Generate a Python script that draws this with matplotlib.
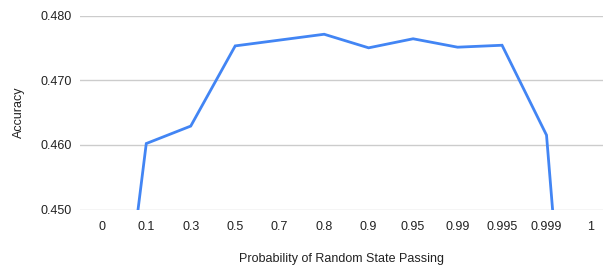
import matplotlib
matplotlib.use("Agg")
from matplotlib import pyplot as plt

# data
probs = ["0", "0.1", "0.3", "0.5", "0.7", "0.8", "0.9", "0.95", "0.99", "0.995", "0.999", "1"]
accuracy = [0.405, 0.4602, 0.4629, 0.4753, 0.4762, 0.4771, 0.4750, 0.4764, 0.4751, 0.4754, 0.4615, 0.377]
yticks = [0.450, 0.460, 0.470, 0.480]

plt.rcParams['font.family'] = ['Liberation Sans', 'DejaVu Sans']

fig = plt.figure(figsize=(6.03, 2.68), dpi=100)
ax = fig.add_axes([80 / 603, 58.5 / 268, 523 / 603, 194 / 268])

xs = range(len(probs))
ax.plot(xs, accuracy, color='#4285F4', linewidth=2, solid_joinstyle='miter')

ax.set_xlim(-0.49, 11.27)
ax.set_ylim(0.450, 0.480)
ax.set_xticks(list(xs))
ax.set_xticklabels(probs)
ax.set_yticks(yticks)
ax.set_yticklabels([f"{v:.3f}" for v in yticks])

ax.grid(axis='y', color='#cccccc', linewidth=1)
ax.set_axisbelow(True)
for s in ax.spines.values():
    s.set_visible(False)
ax.tick_params(length=0, labelsize=9, colors='#222222')
ax.tick_params(axis='x', pad=8)
ax.tick_params(axis='y', pad=6)

ax.set_xlabel("Probability of Random State Passing", fontsize=9, color='#222222', labelpad=14.5)
ax.set_ylabel("Accuracy", fontsize=9, color='#222222', labelpad=11)

fig.savefig("out.png", dpi=100)
